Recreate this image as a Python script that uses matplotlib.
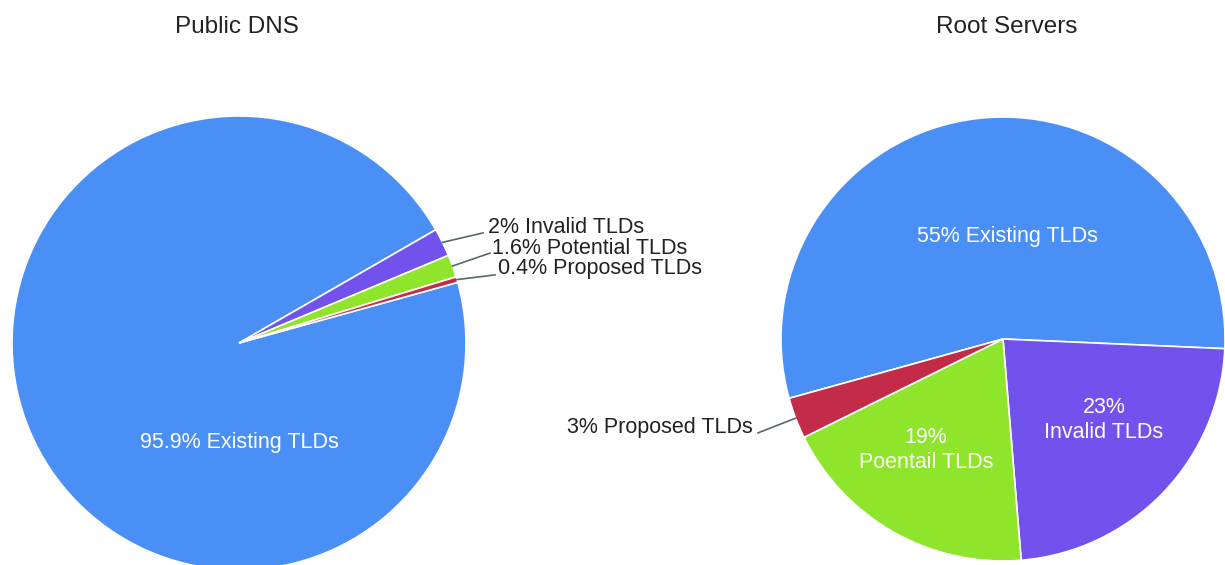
import numpy as np
import matplotlib
matplotlib.use("Agg")
import matplotlib.pyplot as plt

plt.rcParams['font.family'] = ['Liberation Sans', 'DejaVu Sans']

# data
categories = ['Existing TLDs', 'Invalid TLDs', 'Potential TLDs', 'Proposed TLDs']
colors = ['#4a8ff6', '#7152ec', '#8fe52b', '#c42b48']

public_dns = [95.9, 2.0, 1.6, 0.4]
public_labels = ['95.9% Existing TLDs', '2% Invalid TLDs', '1.6% Potential TLDs', '0.4% Proposed TLDs']

root_servers = [55, 23, 19, 3]
root_labels = ['55% Existing TLDs', '23%\nInvalid TLDs', '19%\nPoentail TLDs', '3% Proposed TLDs']

W, H = 1225, 565
fig = plt.figure(figsize=(W / 100, H / 100), dpi=100)

def pie_axes(cx, cy, r):
    # pixel centre / radius -> axes rectangle in figure fraction
    return fig.add_axes([(cx - r) / W, (H - cy - r) / H, 2 * r / W, 2 * r / H])

line_col = '#56696a'
fs = 15.5

# ---- Public DNS ----
ax1 = pie_axes(239, 343, 227)
w1, _ = ax1.pie(public_dns, colors=colors, startangle=15.5, counterclock=False,
                wedgeprops=dict(edgecolor='white', linewidth=1.2))
ax1.set_xlim(-1, 1)
ax1.set_ylim(-1, 1)
ax1.set_aspect('equal')
ax1.axis('off')

ax1.text(0, -0.44, public_labels[0], color='white', fontsize=fs, ha='center', va='center')

# outside labels: (line end, text position)
outside = {1: ((1.075, 0.485), (1.097, 0.507)),
           2: ((1.106, 0.396), (1.115, 0.418)),
           3: ((1.128, 0.300), (1.141, 0.330))}
for i, (lend, tpos) in outside.items():
    w = w1[i]
    a = np.deg2rad((w.theta1 + w.theta2) / 2)
    ax1.plot([np.cos(a), lend[0]], [np.sin(a), lend[1]], color=line_col, lw=1.2, clip_on=False)
    ax1.text(tpos[0], tpos[1], public_labels[i], fontsize=fs, ha='left', va='center',
             color='#222222', clip_on=False)

fig.text(237 / W, 1 - 27 / H, 'Public DNS', fontsize=17.5, ha='center', va='center', color='#222222')

# ---- Root Servers ----
ax2 = pie_axes(1003, 339, 222)
w2, _ = ax2.pie(root_servers, colors=colors, startangle=195.5, counterclock=False,
                wedgeprops=dict(edgecolor='white', linewidth=1.2))
ax2.set_xlim(-1, 1)
ax2.set_ylim(-1, 1)
ax2.set_aspect('equal')
ax2.axis('off')

ax2.text(0.02, 0.46, root_labels[0], color='white', fontsize=fs, ha='center', va='center')
ax2.text(0.455, -0.365, root_labels[1], color='white', fontsize=fs, ha='center', va='center',
         linespacing=1.3)
ax2.text(-0.347, -0.50, root_labels[2], color='white', fontsize=fs, ha='center', va='center',
         linespacing=1.3)

w = w2[3]
a = np.deg2rad((w.theta1 + w.theta2) / 2)
ax2.plot([np.cos(a), -1.104], [np.sin(a), -0.423], color=line_col, lw=1.2, clip_on=False)
ax2.text(-1.126, -0.40, root_labels[3], fontsize=fs, ha='right', va='center',
         color='#222222', clip_on=False)

fig.text(1007 / W, 1 - 27 / H, 'Root Servers', fontsize=17.5, ha='center', va='center', color='#222222')

fig.savefig('out.png', dpi=100, facecolor='white')
